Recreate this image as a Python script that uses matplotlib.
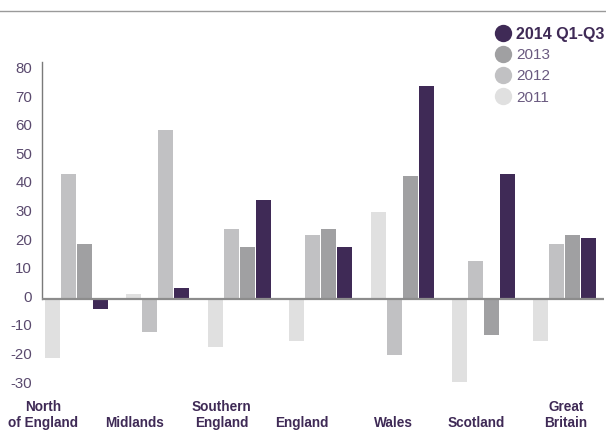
import matplotlib
matplotlib.use("Agg")
import matplotlib.pyplot as plt
from matplotlib.lines import Line2D
from matplotlib.transforms import blended_transform_factory, ScaledTranslation
import numpy as np

plt.rcParams["font.family"] = ["Liberation Sans", "DejaVu Sans"]

# ---- data -------------------------------------------------------------
regions = ["North\nof England", "Midlands", "Southern\nEngland", "England",
           "Wales", "Scotland", "Great\nBritain"]
series_names = ["2011", "2012", "2013", "2014 Q1-Q3"]
v2011 = [-20.5, 1.8, -16.6, -14.4, 30.5, -28.8, -14.5]
v2012 = [43.8, -11.4, 24.6, 22.4, -19.5, 13.4, 19.4]
v2013 = [19.3, 59.2, 18.3, 24.6, 43.1, -12.5, 22.5]
v2014 = [-3.4, 3.9, 34.8, 18.3, 74.6, 43.8, 21.4]
yticks = list(range(-30, 90, 10))

# ---- style ------------------------------------------------------------
c2011 = "#e0e0e0"
c2012 = "#c1c1c3"
c2013 = "#a0a0a2"
c2014 = "#3f2a56"
tick_color = "#5a4a6e"
label_color = "#3f2a56"

fig = plt.figure(figsize=(6.06, 4.30), dpi=100)
W, H = 606, 430
ax = fig.add_axes([42 / W, 1 - 390 / H, (604 - 42) / W, (390 - 62) / H])

groups = np.arange(len(regions))
pitch = 16 / 81.4
width = 15 / 81.4

colors2013 = [c2013] * len(regions)
colors2013[1] = c2012

series = [(v2011, [c2011] * len(regions)),
          (v2012, [c2012] * len(regions)),
          (v2013, colors2013),
          (v2014, [c2014] * len(regions))]
for j, (vals, cols) in enumerate(series):
    ax.bar(groups + (j - 1.5) * pitch, vals, width=width, color=cols,
           linewidth=0, zorder=2)

ax.set_xlim(-0.424, 6.48)
ax.set_ylim(-31.7, 83)

ax.axhline(0, color="#8c8c8c", lw=1.6, zorder=3)
for s in ["top", "right", "bottom"]:
    ax.spines[s].set_visible(False)
ax.spines["left"].set_color("#7a7a7a")
ax.spines["left"].set_linewidth(1.0)
ax.spines["left"].set_bounds(0, 83)

ax.set_yticks(yticks)
ax.set_yticklabels([str(t) for t in yticks])
ax.tick_params(axis="y", length=0, pad=7.2, labelsize=10.8,
               labelcolor=tick_color)
lift = ScaledTranslation(0, 3 / 100, fig.dpi_scale_trans)
for lbl in ax.get_yticklabels():
    lbl.set_transform(lbl.get_transform() + lift)
ax.set_xticks([])

# region labels under the chart
label_x = [-0.41, 0.71, 1.78, 2.77, 3.89, 4.91, 6.01]
trans = blended_transform_factory(ax.transData, fig.transFigure)
for x, name in zip(label_x, regions):
    ax.text(x, 0.0, name, transform=trans, ha="center", va="bottom",
            fontsize=9.8, fontweight="bold", color=label_color,
            linespacing=1.15, clip_on=False)

# thin rule across the top
fig.add_artist(Line2D([0, 1], [1 - 10.5 / H] * 2, color="#9a9a9a", lw=1.0,
                      transform=fig.transFigure))

# legend
legend_items = [("2014 Q1-Q3", c2014, "bold", c2014),
                ("2013", c2013, "normal", "#6a5a80"),
                ("2012", c2012, "normal", "#6a5a80"),
                ("2011", c2011, "normal", "#6a5a80")]
for i, (txt, col, wt, tcol) in enumerate(legend_items):
    yc = 1 - (32.5 + 21.2 * i) / H
    fig.add_artist(Line2D([503 / W], [yc], marker="o", markersize=12.5,
                          markerfacecolor=col, markeredgewidth=0,
                          linestyle="none", transform=fig.transFigure))
    fig.text(516 / W, yc, txt, ha="left", va="center_baseline",
             fontsize=11.5 if wt == "bold" else 11, fontweight=wt, color=tcol)

fig.savefig("out.png", dpi=100)
